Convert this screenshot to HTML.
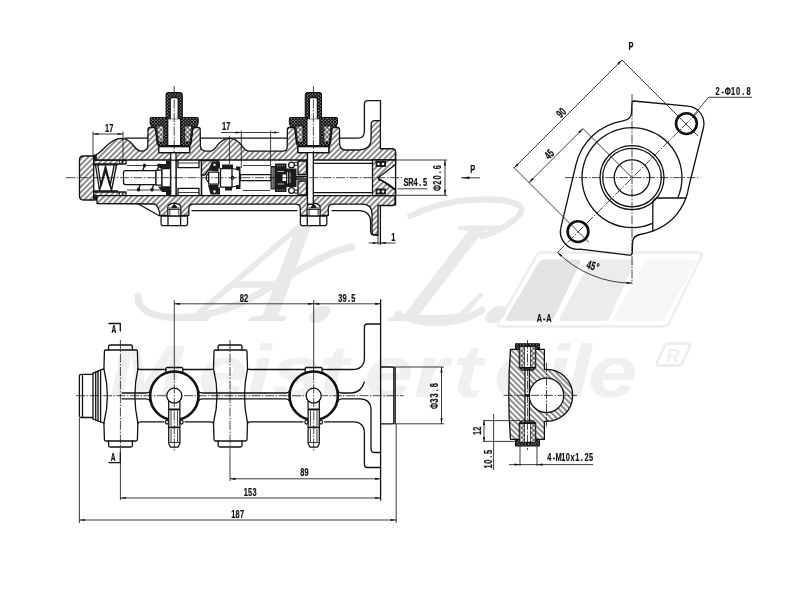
<!DOCTYPE html>
<html><head><meta charset="utf-8"><title>Drawing</title>
<style>
html,body{margin:0;padding:0;background:#fff;}
body{width:800px;height:600px;overflow:hidden;}
svg{display:block;filter:blur(0.4px);}
.k{stroke:#111;fill:none;stroke-width:1.3;stroke-linejoin:round;stroke-linecap:round}
.t{stroke:#1a1a1a;fill:none;stroke-width:0.85}
.c{stroke:#1a1a1a;fill:none;stroke-width:0.8;stroke-dasharray:9 1.5 1.5 1.5}
.h{fill:url(#hA);stroke:#111;stroke-width:1.3;stroke-linejoin:round}
.hb{fill:url(#hB);stroke:#111;stroke-width:1.3;stroke-linejoin:round}
.x{fill:url(#hX);stroke:#111;stroke-width:1.1;stroke-linejoin:round}
.w{fill:#fff;stroke:#111;stroke-width:1.25;stroke-linejoin:round}
.d{fill:#1b1b1b;stroke:none}
.ar{fill:#111;stroke:none}
text{font-family:"Liberation Sans","DejaVu Sans",sans-serif;font-weight:bold;fill:#111;stroke:#111;stroke-width:0.22px}
.wm{font-family:"Liberation Sans","DejaVu Sans",sans-serif;font-style:italic;font-weight:bold;fill:#f0f0f0;stroke:none}
.ws{font-family:"Liberation Serif","DejaVu Serif",serif;font-style:italic;font-weight:normal;fill:#e9e9e9;stroke:none}
</style></head><body>
<svg width="800" height="600" viewBox="0 0 800 600">
<defs>
<pattern id="hA" width="3.9" height="3.9" patternUnits="userSpaceOnUse" patternTransform="rotate(45)"><rect width="3.9" height="3.9" fill="#fff"/><line x1="1.95" y1="-1" x2="1.95" y2="5" stroke="#111" stroke-width="0.95"/></pattern>
<pattern id="hB" width="4" height="4" patternUnits="userSpaceOnUse" patternTransform="rotate(-45)"><rect width="4" height="4" fill="#fff"/><line x1="2" y1="-1" x2="2" y2="5" stroke="#111" stroke-width="0.95"/></pattern>
<pattern id="hX" width="2.3" height="2.3" patternUnits="userSpaceOnUse" patternTransform="rotate(45)"><rect width="2.3" height="2.3" fill="#fff"/><path d="M1.15,-1V4M-1,1.15H4" stroke="#000" stroke-width="1.3"/></pattern>
<pattern id="hY" width="3.4" height="3.4" patternUnits="userSpaceOnUse" patternTransform="rotate(45)"><rect width="3.4" height="3.4" fill="#fff"/><path d="M1.7,-1V5M-1,1.7H5" stroke="#111" stroke-width="0.75"/></pattern>
</defs>
<rect width="800" height="600" fill="#fff"/>
<g id="wm">
<path d="M541.5,252.5 H699 Q703,253 701,257 L669,323 Q667,326.5 663,326.5 H501 Q496,326 498.5,322 L537,255 Q538.5,252.5 541.5,252.5Z" fill="#fff" stroke="#ededed" stroke-width="2.4"/>
<path d="M543,259.5 H578 Q582,259.5 580,263.5 L554,318 Q552.5,321 549,321 H509 Q504,321 506.5,317 L539,262 Q540.5,259.5 543,259.5Z" fill="#e3e3e3"/>
<path d="M594,259.5 H632 Q636,259.5 634,263.5 L609.500,318 Q608,321 604.500,321 H563 Q558,321 560,317 L590,262 Q591.5,259.5 594,259.5Z" fill="#ececec"/>
<path d="M649,259.5 H693.500 Q697.500,259.5 695.500,263.5 L665,318 Q663.500,321 660,321 H617 Q612,321 614,317 L645,262 Q646.500,259.5 649,259.5Z" fill="#f6f6f6"/>
<path d="M138,296 C136,324 205,327 262,292 S 335,250 352,247" fill="none" stroke="#e9e9e9" stroke-width="7" stroke-linecap="round"/>
<path d="M410,216 C450,196 505,196 520,206 C528,214 500,232 482,236" fill="none" stroke="#e9e9e9" stroke-width="6" stroke-linecap="round"/>
<path d="M398,314 C420,326 460,326 482,310" fill="none" stroke="#e9e9e9" stroke-width="7" stroke-linecap="round"/>
<text class="ws" transform="translate(188,321) skewX(-30) scale(1.08,1)" x="0.0 103.7 185.2 266.7" y="0" font-size="146">A.L.</text>
<text class="wm" transform="translate(0,397) scale(1.2,1)" x="90.8 165.0 205.8 226.7 265.8 303.3 345.0 377.5 411.7 454.2 472.5 490.0" y="0" font-size="74">Meisterteile</text>
<path d="M668,343.500 H687 Q691,343.500 689.500,347.500 L683,362 Q681.500,365.500 678,365.500 H660 Q656,365.500 657.500,361.500 L664,347 Q665.500,343.500 668,343.500Z" fill="none" stroke="#ebebeb" stroke-width="2.5"/>
<text class="wm" x="666" y="362" font-size="19">R</text>
</g>
<g id="section">
<path class="h" d="M83.500,156H93.700V200H83.500Q79.500,200 79.500,196V160Q79.500,156 83.500,156Z"/>
<path class="h" d="M93.700,160H126V164H93.700Z"/><path class="h" d="M93.700,192H126V195.600H93.700Z"/>
<path class="t" d="M119.500,160V164M122.500,160V164M119.500,192V195.600M122.500,192V195.600"/>
<path class="h" d="M96,160 L96,155 L98.750,153 C103,150 106,146 108,144.500 C112,141 116,138.500 121,138.300 C126,138.300 130,141 133,145 C136,149 138,151 141,151.200 C145,151.200 147.500,150 147.800,146 L148,129.500 Q148,127.500 150,127.500 L153.800,127.500 Q155.300,127.500 155.500,129.500 L157.200,143 L158.750,146 L158.750,152.500 L189.600,152.500 L189.600,146 L191,143 L192.700,129.500 Q192.900,127.500 194.500,127.500 L198.200,127.500 Q200.200,127.500 200.200,129.500 L200.400,146 C200.600,150 203,151.200 207,151.200 L210,151.200 C214,151 216,147 218,144.500 C221,141 225,138.300 229.500,138.300 C234,138.300 238,141 241,144.500 C243,147 245,151 249,151.200 L283,151.200 Q287.200,151.200 287.200,147 L287.400,129.500 Q287.400,127.500 289.400,127.500 L293.200,127.500 Q294.700,127.500 294.900,129.500 L296.600,143 L298,146 L298,152.500 L329,152.500 L329,146 L330.400,143 L332,129.500 Q332.200,127.500 333.800,127.500 L337.500,127.500 Q339.500,127.500 339.500,129.500 L339.600,144 Q340,150 346,150 L357,150 Q370.500,150 371,140 L371.200,124.500 Q371.200,120.600 375,120.600 L380.400,120.600 L380.400,148.750 L392,148.750 Q395.500,148.750 395.500,152 L395.500,160 Z"/>
<rect class="d" x="93.500" y="154.500" width="3" height="5.500"/><rect class="d" x="93.500" y="195.600" width="3.500" height="5"/>
<path class="k" d="M125,138.200H148M200.200,138.200H287.200M339.500,138.200H358Q364.400,138.200 364.400,131V104Q364.400,100.600 368,100.600H380.500V120.600"/>
<path class="h" d="M97,195.600 L395,195.600 L395,203 Q395,205.500 392.500,205.500 L378,205.500 L378,235 L375,235 Q372,235 372,231 L372,214 Q372,204.200 362,204.200 L333,204.200 Q328.300,204.200 328.300,209 L328.300,215.400 L300.300,215.400 L300.300,209 Q300.300,204.200 295.500,204.200 L193.500,204.200 Q188.800,204.200 188.800,209 L188.800,215.500 L160,215.500 Q159,207 155,204 L97,203.500 Z"/>
<path class="k" d="M138,203.800L158.750,215.500H160"/>
<path class="k" d="M192,210.600H297M332,210.600H358Q370.600,210.600 370.600,222V231Q370.600,235.200 375,235.200H378"/>
<path class="k" d="M380.400,205.500V244"/>
<path class="w" d="M167.8,216.200V207.500Q167.8,203.700 174.3,203.200Q180.8,203.700 180.8,207.500V216.200Z"/>
<path class="t" d="M167.8,209.500H180.8M169.8,207V216M178.8,207V216"/>
<path class="d" d="M170.3,208.500L174.3,203.500L178.3,208.500Z"/>
<path class="w" d="M161.10000000000002,216.200H187.5V223.500Q187.5,225.700 185.3,225.700H163.3Q161.10000000000002,225.700 161.10000000000002,223.500Z"/>
<path class="k" d="M168.0,216.200V225.700M180.60000000000002,216.200V225.700"/>
<path class="w" d="M307.1,216.200V207.500Q307.1,203.700 313.6,203.200Q320.1,203.700 320.1,207.500V216.200Z"/>
<path class="t" d="M307.1,209.500H320.1M309.1,207V216M318.1,207V216"/>
<path class="d" d="M309.6,208.500L313.6,203.500L317.6,208.500Z"/>
<path class="w" d="M300.40000000000003,216.200H326.8V223.500Q326.8,225.700 324.6,225.700H302.6Q300.40000000000003,225.700 300.40000000000003,223.500Z"/>
<path class="k" d="M307.3,216.200V225.700M319.90000000000003,216.200V225.700"/>
<path class="w" d="M170.700,152.500H176V195.600H170.700Z"/>
<path class="w" d="M307.500,152.500H313.300V204H307.500Z"/>
<rect class="w" x="158.79999999999998" y="146" width="30.800" height="6.500"/>
<path d="M158.79999999999998,146.400H189.6" stroke="#111" stroke-width="1.8"/>
<rect class="w" x="298.0" y="146" width="30.800" height="6.500"/>
<path d="M298.0,146.400H328.79999999999995" stroke="#111" stroke-width="1.8"/>
</g><g id="plugs"><path class="x" d="M166.1,118 V95 Q166.1,92.5 168.6,92.5 H179.79999999999998 Q182.29999999999998,92.5 182.29999999999998,95 V117.500 H197.2 L198.2,118.500 V123 L196.7,127 H192.79999999999998 L190.79999999999998,144.500 L189.2,146 H159.2 L157.6,144.500 L155.6,127 H151.7 L150.2,123 V118.500 L151.2,117.500 H166.1Z"/>
<path d="M156.7,126 H163.7 V142 H158.39999999999998Z" fill="url(#hY)" stroke="#111" stroke-width="0.8"/>
<path d="M191.7,126 H184.7 V142 H190.0Z" fill="url(#hY)" stroke="#111" stroke-width="0.8"/>
<path class="w" d="M167.7,118.700H180.7V145.500H167.7Z"/>
<path class="w" d="M170.2,118.700V99.500Q170.2,97.500 172.2,97.500H176.2Q178.2,97.500 178.2,99.500V118.700"/><path class="x" d="M305.29999999999995,118 V95 Q305.29999999999995,92.5 307.79999999999995,92.5 H319.0 Q321.5,92.5 321.5,95 V117.500 H336.4 L337.4,118.500 V123 L335.9,127 H332.0 L330.0,144.500 L328.4,146 H298.4 L296.79999999999995,144.500 L294.79999999999995,127 H290.9 L289.4,123 V118.500 L290.4,117.500 H305.29999999999995Z"/>
<path d="M295.9,126 H302.9 V142 H297.59999999999997Z" fill="url(#hY)" stroke="#111" stroke-width="0.8"/>
<path d="M330.9,126 H323.9 V142 H329.2Z" fill="url(#hY)" stroke="#111" stroke-width="0.8"/>
<path class="w" d="M306.9,118.700H319.9V145.500H306.9Z"/>
<path class="w" d="M309.4,118.700V99.500Q309.4,97.500 311.4,97.500H315.4Q317.4,97.500 317.4,99.500V118.700"/><path class="c" d="M174.200,86V152M313.400,86V152"/></g><g id="internals">
<path class="k" d="M95.500,165L99.500,190.500L105.500,166L111.500,190.500L116.500,165" stroke-width="1"/>
<path class="k" d="M97.800,165L101,186L105.500,170.500L110,186L114.200,165" stroke-width="0.9"/>
<path class="k" d="M94.500,164.800H117.500M94.500,191H117.500"/>
<path class="t" d="M127,165.500H163M127,190H163"/>
<path class="w" d="M125.500,170.500H156V184.500H125.500Q123.500,184.500 123.500,182.500V172.500Q123.500,170.500 125.500,170.500Z"/>
<rect class="w" x="156" y="170" width="6" height="15"/>
<rect class="w" x="162" y="168.500" width="8.500" height="18.500"/>
<ellipse class="d" cx="144.5" cy="165.5" rx="1.7" ry="1.9"/>
<path class="k" d="M144.5,165.5L143.0,170.0"/>
<ellipse class="d" cx="159" cy="165.5" rx="1.7" ry="1.9"/>
<path class="k" d="M159,165.5L157.5,170.0"/>
<ellipse class="d" cx="138.5" cy="189.7" rx="1.7" ry="1.9"/>
<path class="k" d="M138.5,189.7L140.0,185.2"/>
<ellipse class="d" cx="152" cy="189.7" rx="1.7" ry="1.9"/>
<path class="k" d="M152,189.7L153.5,185.2"/>
<path class="d" d="M157,164H170.500V168.500H160Z"/><path class="d" d="M158,186.500H170.500V192H162Z"/>
<rect class="d" x="166" y="160.500" width="4.500" height="4"/><rect class="d" x="166" y="191.500" width="4.500" height="4"/>
<path class="w" d="M170.700,160H176V195.600H170.700Z" stroke-width="1.4"/>
<path class="k" d="M176,160.500H178V167.700H199V160.500H201.500V195.300H199V188.300H178V195.300H176"/>
<path class="t" d="M178,163H199M178,192.500H199"/>
<path class="h" d="M201.500,160.500H218V163L208,170.500L205,175H201.500Z"/>
<path class="k" d="M201.500,175V195.300"/>
<path class="w" d="M208.700,173Q203.500,177.700 208.700,182.500Z"/>
<rect class="w" x="208.700" y="172" width="10" height="12"/>
<path class="d" d="M208,170.500L212,161.500H220V168.500H218.500V171.500Z"/>
<path class="d" d="M208,185H218.500V187.500H220V194.500H210.500Z"/>
<circle cx="214.500" cy="164.800" r="1.300" fill="#fff"/><circle cx="214.500" cy="191.500" r="1.300" fill="#fff"/>
<path class="w" d="M220.500,168.500H232L239.500,170V185.500L232,187H220.500Z"/>
<path class="k" d="M232,168.500V187"/><circle class="w" cx="232.500" cy="177.700" r="1.300"/>
<path class="d" d="M222,164.500H233V168.500H222Z M225,187H232V190.500H225Z"/>
<path class="d" d="M236,166.500H240.500V189H236V185.500L239.500,185V170.500L236,170Z"/>
<path class="w" d="M240.500,174.500H271V180.500H240.500Z"/>
<path class="t" d="M243,165.500H270M243,190.500H270"/>
<path class="d" d="M270.500,166H275V163.500H286.500V168.500H296.500V187H286.500V192H275V189.500H270.500Z"/>
<path d="M272.200,167.500V188.500M274,167.500V188.500" stroke="#fff" stroke-width="0.600"/>
<rect x="282.500" y="174.500" width="3.500" height="6.500" fill="#fff"/>
<path d="M277.500,171.500H284M277.500,184H284M287.500,172V183.500M290,172.500V183" stroke="#fff" stroke-width="0.700"/>
<path d="M277,165.800H285M277,190H285" stroke="#fff" stroke-width="0.600" stroke-dasharray="1.2 1.2"/>
<circle cx="291.500" cy="165" r="2.900" fill="#fff" stroke="#111" stroke-width="1.300"/>
<circle cx="296" cy="163.8" r="1.700" fill="#fff" stroke="#111" stroke-width="1"/>
<circle cx="291.500" cy="190.5" r="2.900" fill="#fff" stroke="#111" stroke-width="1.300"/>
<circle cx="296" cy="191.7" r="1.700" fill="#fff" stroke="#111" stroke-width="1"/>
<path class="h" d="M298,161H306.500V174.500H298Z"/><path class="h" d="M298,181H306.500V195H298Z"/>
<path class="k" d="M296.500,176.500H307M296.500,179H307"/>
<path class="w" d="M307.500,152.500H313.300V204H307.500Z" stroke-width="1.400"/>
<path class="k" d="M313.500,163.300H372.500M313.500,192.700H372.500"/>
<path class="h" d="M372.500,160H395.600V164.500L378,177.700L395.600,190.500V195.600H372.500Z"/>
<path class="d" d="M375.600,161H386V167H375.600Z M375.600,188.500H386V194.500H375.600Z"/>
<circle cx="378.500" cy="164" r="1.200" fill="#fff"/><circle cx="383" cy="164" r="1.200" fill="#fff"/><circle cx="378.500" cy="191.500" r="1.200" fill="#fff"/><circle cx="383" cy="191.500" r="1.200" fill="#fff"/>
<path class="k" d="M378.500,179.500Q386,181.500 395.600,189.800"/>
<path class="k" d="M395.600,152V205"/>
<path class="c" d="M66,177.700H402"/>
</g><g id="secdims">
<path class="t" d="M93,131.500V156M123,131.500V163M93,134H123"/>
<path class="ar" d="M93.0,134.0L98.5,132.9L98.5,135.1Z"/>
<path class="ar" d="M123.0,134.0L117.5,135.1L117.5,132.9Z"/>
<text transform="translate(104.8,131.8) scale(0.64,1)" x="3.44 10.31" y="0" font-size="11.6" text-anchor="middle">17</text>
<path class="t" d="M221,132.500H279M241.300,130.500V168M270.600,130.500V166M229.400,136V164"/>
<path class="ar" d="M241.3,132.5L235.8,133.6L235.8,131.4Z"/>
<path class="ar" d="M270.6,132.5L276.1,131.4L276.1,133.6Z"/>
<text transform="translate(221.8,130.3) scale(0.64,1)" x="3.44 10.31" y="0" font-size="11.6" text-anchor="middle">17</text>
<path class="t" d="M396,160H447M396,195.300H447M445,160V195.300"/>
<path class="ar" d="M445.0,160.0L446.1,165.5L443.9,165.5Z"/>
<path class="ar" d="M445.0,195.3L443.9,189.8L446.1,189.8Z"/>
<text transform="translate(441.0,190.5) rotate(-90) translate(0.0,0) scale(0.64,1)" x="4.06 12.19 20.31 28.44 36.56" y="0" font-size="11.6" text-anchor="middle">Φ20.6</text>
<path class="t" d="M397.500,188.800H427.500"/>
<text transform="translate(403.7,186.3) scale(0.64,1)" x="3.71 11.13 18.55 25.98 33.40" y="0" font-size="11.6" text-anchor="middle">SR4.5</text>
<text transform="translate(470.4,173.2) scale(0.64,1)" x="3.75" y="0" font-size="11.6" text-anchor="middle">P</text>
<path class="t" d="M461,177.800H480"/>
<path class="ar" d="M461.5,177.8L469.5,176.6L469.5,179.0Z"/>
<path class="t" d="M368.700,243H395.500M378,235V244.500"/>
<path class="ar" d="M378.0,243.0L372.5,244.1L372.5,241.9Z"/>
<path class="ar" d="M380.4,243.0L385.9,241.9L385.9,244.1Z"/>
<text transform="translate(391.0,240.5) scale(0.64,1)" x="3.44" y="0" font-size="11.6" text-anchor="middle">1</text>
</g><g id="plan">
<path class="c" d="M76,395.7H404"/>
<path class="k" d="M93,374.400H81Q79.400,374.400 79.400,376V416Q79.400,417.500 81,417.500H93"/>
<path class="k" d="M82.500,375V417" stroke-width="1.500"/>
<path class="k" d="M93,373.200V419M95.700,372V420.200M98,371V421.200M100.600,370V422.300" stroke-width="1.300"/>
<path class="k" d="M93,373.200L103.700,368.800M93,419L103.700,423"/>
<path class="k" d="M103.9,369 L104.4,351.500 Q104.4,350 105.9,350 H135.9 Q137.4,350 137.4,351.500 L137.9,369"/>
<path class="k" d="M108.60000000000001,350V346.500Q108.60000000000001,345 110.10000000000001,345H130.9Q132.4,345 132.4,346.500V350"/>
<path class="k" d="M103.9,423 L104.4,439.500 Q104.4,441 105.9,441 H135.9 Q137.4,441 137.4,439.500 L137.9,423"/>
<path class="k" d="M108.60000000000001,441V445.500Q108.60000000000001,447 110.10000000000001,447H130.9Q132.4,447 132.4,445.500V441"/>
<path class="k" d="M103.9,369Q110.9,395.7 103.9,423M137.9,369Q131.9,395.7 137.9,423"/>
<path class="c" d="M120.4,340V452"/>
<path class="k" d="M213.5,369 L214,351.500 Q214,350 215.5,350 H245.5 Q247,350 247,351.500 L247.5,369"/>
<path class="k" d="M218.2,350V346.500Q218.2,345 219.7,345H240.5Q242,345 242,346.500V350"/>
<path class="k" d="M213.5,423 L214,439.500 Q214,441 215.5,441 H245.5 Q247,441 247,439.500 L247.5,423"/>
<path class="k" d="M218.2,441V445.500Q218.2,447 219.7,447H240.5Q242,447 242,445.500V441"/>
<path class="k" d="M213.5,369Q220.5,395.7 213.5,423M247.5,369Q241.5,395.7 247.5,423"/>
<path class="c" d="M230,340V452"/>
<path class="k" d="M137.900,369Q138.500,369.500 141,369.500H165.800M182.800,369.500H210Q212.500,369.500 213.500,369M247.500,369Q248.500,369.500 251,369.500H305.300M322.300,369.500H352Q364.400,369.500 364.400,358"/>
<path class="k" d="M137.900,423Q138.500,421.800 141,421.800H164M185,421.800H210Q212.500,421.800 213.500,423M247.500,423Q248.500,421.800 251,421.800H303M324.500,421.800H353Q364.400,421.800 364.400,433"/>
<path class="k" d="M165.8,371.500V368.800Q165.8,367.500 167.3,367.500H181.3Q182.8,367.500 182.8,368.800V371.500"/>
<path class="k" d="M305.2,371.500V368.800Q305.2,367.500 306.7,367.500H320.7Q322.2,367.500 322.2,368.800V371.500"/>
<path class="k" d="M122,393H146Q149,393 150.500,390.500M122,398.800H146Q149,398.800 150.500,401.300"/>
<path class="k" d="M198,390.500Q199.500,393 202.500,393H285.500Q288.500,393 290,390.500M198,401.300Q199.500,398.800 202.500,398.800H285.500Q288.500,398.800 290,401.300"/>
<path class="k" d="M337.500,390.500Q339,393 342,393H352Q361,392.500 364.400,382M337.500,401.300Q339,398.800 342,398.800H360Q371,399 371,410V449Q371,452.500 374.500,452.500H380.600"/>
<circle cx="174.3" cy="395.7" r="24.200" fill="none" stroke="#111" stroke-width="2.600"/>
<path class="w" d="M168.70000000000002,401V443.500L170.5,447H178.10000000000002L179.9,443.500V401Z"/>
<circle class="w" cx="174.3" cy="395.7" r="7.500" stroke-width="1.300"/>
<path d="M168.70000000000002,409.500H179.9M168.70000000000002,427.300H179.9" stroke="#111" stroke-width="1.800"/>
<path class="t" d="M168.70000000000002,442.500H179.9M171.0,411V426M177.60000000000002,411V426M171.0,429V442M177.60000000000002,429V442"/>
<path class="t" d="M174.3,300V371"/><path class="c" d="M174.3,371V452"/>
<ellipse class="w" cx="167.0" cy="422" rx="1.500" ry="2"/><ellipse class="w" cx="181.60000000000002" cy="422" rx="1.500" ry="2"/>
<circle cx="313.7" cy="395.7" r="24.200" fill="none" stroke="#111" stroke-width="2.600"/>
<path class="w" d="M308.09999999999997,401V443.500L309.9,447H317.5L319.3,443.500V401Z"/>
<circle class="w" cx="313.7" cy="395.7" r="7.500" stroke-width="1.300"/>
<path d="M308.09999999999997,409.500H319.3M308.09999999999997,427.300H319.3" stroke="#111" stroke-width="1.800"/>
<path class="t" d="M308.09999999999997,442.500H319.3M310.4,411V426M317.0,411V426M310.4,429V442M317.0,429V442"/>
<path class="t" d="M313.7,300V371"/><path class="c" d="M313.7,371V452"/>
<ellipse class="w" cx="306.4" cy="422" rx="1.500" ry="2"/><ellipse class="w" cx="321.0" cy="422" rx="1.500" ry="2"/>
<path class="k" d="M364.400,358V327Q364.400,324 367.400,324H380.600M364.400,433V464.500Q364.400,467.500 367.400,467.500H380.600"/>
<path class="k" d="M380.600,300V500"/>
<path class="k" d="M380.600,367H392.500Q393.800,367 393.800,368.300V422.500Q393.800,423.800 392.500,423.800H380.600"/>
<path class="k" d="M395.200,367.500V423.300" stroke-width="1.400"/>
<path class="k" d="M109,323.500H120.300V331"/>
<text transform="translate(111.3,332.6) scale(0.64,1)" x="3.91" y="0" font-size="10.2" text-anchor="middle">A</text>
<path class="k" d="M109,462.600H120.300V452.500"/>
<text transform="translate(110.5,460.8) scale(0.64,1)" x="3.91" y="0" font-size="10.2" text-anchor="middle">A</text>
</g><g id="plandims">
<path class="t" d="M174.300,303.800H380.600"/>
<path class="ar" d="M174.3,303.8L179.8,302.7L179.8,304.9Z"/>
<path class="ar" d="M313.7,303.8L308.2,304.9L308.2,302.7Z"/>
<path class="ar" d="M313.7,303.8L319.2,302.7L319.2,304.9Z"/>
<path class="ar" d="M380.6,303.8L375.1,304.9L375.1,302.7Z"/>
<text transform="translate(239.5,301.5) scale(0.64,1)" x="3.44 10.31" y="0" font-size="11.6" text-anchor="middle">82</text>
<text transform="translate(338.0,301.5) scale(0.64,1)" x="3.44 10.31 17.19 24.06" y="0" font-size="11.6" text-anchor="middle">39.5</text>
<path class="t" d="M394,367H444M394,423.800H444M441.500,367V423.800"/>
<path class="ar" d="M441.5,367.0L442.6,372.5L440.4,372.5Z"/>
<path class="ar" d="M441.5,423.8L440.4,418.3L442.6,418.3Z"/>
<text transform="translate(438.0,408.5) rotate(-90) translate(0.0,0) scale(0.64,1)" x="4.06 12.19 20.31 28.44 36.56" y="0" font-size="11.6" text-anchor="middle">Φ33.8</text>
<path class="t" d="M230,452V481M230,478.800H380.600M120.400,462V500M120.400,498H380.600M79.400,418V523M396.200,424V523M79.400,520H396.200"/>
<path class="ar" d="M230.0,478.8L235.5,477.7L235.5,479.9Z"/>
<path class="ar" d="M380.6,478.8L375.1,479.9L375.1,477.7Z"/>
<path class="ar" d="M120.4,498.0L125.9,496.9L125.9,499.1Z"/>
<path class="ar" d="M380.6,498.0L375.1,499.1L375.1,496.9Z"/>
<path class="ar" d="M79.4,520.0L84.9,518.9L84.9,521.1Z"/>
<path class="ar" d="M396.2,520.0L390.7,521.1L390.7,518.9Z"/>
<text transform="translate(300.0,476.0) scale(0.64,1)" x="3.44 10.31" y="0" font-size="11.6" text-anchor="middle">89</text>
<text transform="translate(243.5,495.5) scale(0.64,1)" x="3.44 10.31 17.19" y="0" font-size="11.6" text-anchor="middle">153</text>
<text transform="translate(231.0,517.5) scale(0.64,1)" x="3.44 10.31 17.19" y="0" font-size="11.6" text-anchor="middle">187</text>
</g><g id="pview">
<path class="k" d="M633.500,101 L688,106.100 A17.600,17.600 0 0 1 703.400,128 L688.500,188 Q687.500,194 686,198 A57.500,57.500 0 0 1 652.700,231.200 Q646,233.500 640,234.500 Q633,236 632.600,242 L632.200,252.500 Q632,255.500 629,255.100 L580,249.200 A17.600,17.600 0 0 1 561,227.200 L576,164.500 A57.500,57.500 0 0 1 623,120.800 Q631,119.500 631.500,113 L632,103 Q632,101 633.500,101Z" stroke-width="1.300"/>
<path class="k" d="M652.3,223.3A50,50 0 1 1 677.7,197.9" stroke-width="1.300"/>
<path class="k" d="M685.800,198H658.500Q652.800,198 652.800,204V231" stroke-width="1.300"/>
<circle class="k" cx="632" cy="177.6" r="32" stroke-width="1.300"/><circle class="k" cx="632" cy="177.6" r="29.300" stroke-width="1.300"/><circle class="k" cx="632" cy="177.6" r="17.800" stroke-width="1.300"/>
<circle cx="686.4" cy="123.6" r="10.400" fill="none" stroke="#111" stroke-width="2.600"/>
<circle cx="578" cy="231.6" r="10.400" fill="none" stroke="#111" stroke-width="2.600"/>
<path class="c" d="M565,177.6H698M632,94V284"/>
<path class="c" d="M698,112L557,253"/>
<path class="t" d="M622,60L698,136M514,167.600L589,242.600M632,177.600L583,128.600"/>
<path class="t" d="M622,60L514,168M583,128.600L529,182.600"/>
<path class="ar" d="M622.0,60.0L618.9,64.7L617.3,63.1Z"/>
<path class="ar" d="M514.0,168.0L517.1,163.3L518.7,164.9Z"/>
<path class="ar" d="M583.0,128.6L579.9,133.3L578.3,131.7Z"/>
<path class="ar" d="M529.0,182.6L532.1,177.9L533.7,179.5Z"/>
<text transform="translate(564.0,115.5) rotate(-45) translate(-4.4,0) scale(0.64,1)" x="3.44 10.31" y="0" font-size="11.6" text-anchor="middle">90</text>
<text transform="translate(552.0,157.0) rotate(-45) translate(-4.4,0) scale(0.64,1)" x="3.44 10.31" y="0" font-size="11.6" text-anchor="middle">45</text>
<path class="t" d="M557.4,252.2A105.500,105.500 0 0 0 632.0,283.1"/>
<path class="ar" d="M632.0,283.1L626.5,284.0L626.5,281.8Z"/>
<path class="ar" d="M557.4,252.2L562.1,255.2L560.6,256.8Z"/>
<text transform="translate(592.0,270.0) rotate(17) translate(-6.6,0) scale(0.64,1)" x="3.44 10.31 17.19" y="0" font-size="12" text-anchor="middle">45°</text>
<path class="t" d="M693,116L708.500,97.300H752"/>
<text transform="translate(715.0,94.8) scale(0.64,1)" x="4.02 12.07 20.12 28.16 36.21 44.26 52.30" y="0" font-size="11.6" text-anchor="middle">2-Φ10.8</text>
<text transform="translate(628.5,49.8) scale(0.64,1)" x="3.75" y="0" font-size="11.6" text-anchor="middle">P</text>
</g><g id="aa">
<path class="hb" d="M510.500,349.400 H544.400 V369.5 A26,26 0 1 1 544.400,421.3 V439.400 H510.500 Q507,395.4 510.500,349.400Z"/>
<circle class="w" cx="546.5" cy="395.4" r="17.200"/>
<path class="w" d="M525,368H529.400V394.4L527.200,395.4L529.400,396.4V423H525V396.4L527.200,395.4L525,394.4Z" stroke-width="0.900"/>
<rect class="x" x="515.600" y="343.8" width="23.800" height="5.6"/>
<rect class="w" x="519.400" y="346.4" width="16.200" height="21.100000000000023"/>
<rect x="519.400" y="346.4" width="5" height="21.100000000000023" fill="url(#hY)" stroke="#111" stroke-width="0.700"/>
<rect x="530.600" y="346.4" width="5" height="21.100000000000023" fill="url(#hY)" stroke="#111" stroke-width="0.700"/>
<path class="k" d="M519.400,367.500L522,370H533L535.600,367.500" />
<path d="M520,367.800H535" stroke="#111" stroke-width="1.600"/>
<rect class="x" x="515.600" y="439.4" width="23.800" height="6.6"/>
<rect class="w" x="519.400" y="423.3" width="16.200" height="19.099999999999966"/>
<rect x="519.400" y="423.3" width="5" height="19.099999999999966" fill="url(#hY)" stroke="#111" stroke-width="0.700"/>
<rect x="530.600" y="423.3" width="5" height="19.099999999999966" fill="url(#hY)" stroke="#111" stroke-width="0.700"/>
<path class="k" d="M519.400,423.300L522,420.800H533L535.600,423.300" />
<path d="M520,423H535" stroke="#111" stroke-width="1.600"/>
<path class="c" d="M503.500,395.4H577M546.5,363V428M527.500,340V450"/>
<circle class="d" cx="527.200" cy="395.4" r="1.400"/>
<text transform="translate(537.0,321.5) scale(0.64,1)" x="3.75 11.25 18.75" y="0" font-size="11.5" text-anchor="middle">A-A</text>
<path class="t" d="M483,420.600H520M483,441.400H516M484,420.600V441.400M493.600,414V470M509,464.600H593M520,446V466M537,446V466"/>
<path class="ar" d="M484.0,420.6L485.1,425.1L482.9,425.1Z"/>
<path class="ar" d="M484.0,441.4L482.9,436.9L485.1,436.9Z"/>
<path class="ar" d="M520.0,464.6L514.5,465.7L514.5,463.5Z"/>
<path class="ar" d="M537.0,464.6L542.5,463.5L542.5,465.7Z"/>
<text transform="translate(481.3,435.2) rotate(-90) translate(0.0,0) scale(0.64,1)" x="3.44 10.31" y="0" font-size="11.6" text-anchor="middle">12</text>
<text transform="translate(491.5,469.0) rotate(-90) translate(0.0,0) scale(0.64,1)" x="3.83 11.48 19.14 26.80" y="0" font-size="11.6" text-anchor="middle">10.5</text>
<text transform="translate(547.0,461.3) scale(0.64,1)" x="3.63 10.90 18.16 25.43 32.70 39.96 47.23 54.49 61.76 69.02" y="0" font-size="11.6" text-anchor="middle">4-M10x1.25</text>
</g>
</svg>
</body></html>
